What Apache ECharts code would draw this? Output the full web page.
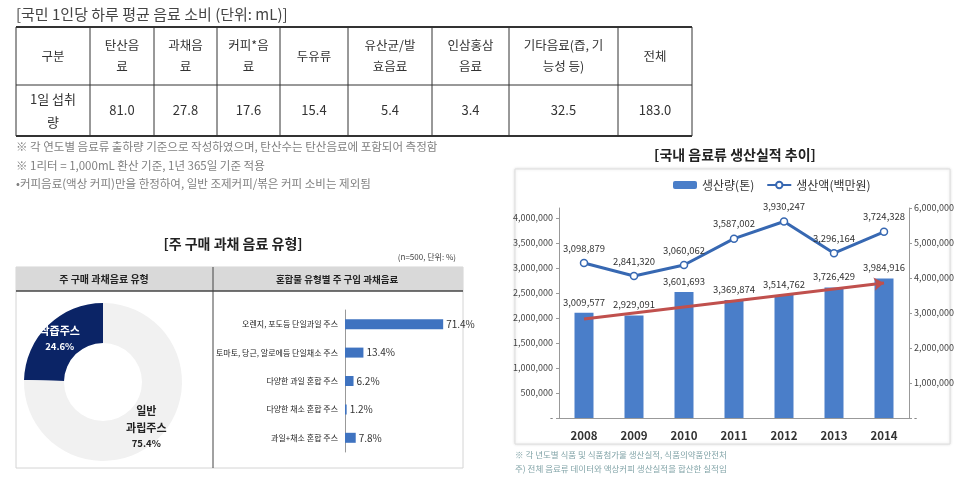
<!DOCTYPE html>
<html><head><meta charset="utf-8">
<script src="https://cdn.jsdelivr.net/npm/echarts@6/dist/echarts.min.js"></script>
<style>html,body{margin:0;padding:0;background:#fff}#c{width:972px;height:492px}</style>
</head><body><div id="c"></div>
<script>
// ---- data ----
const tableHeaders = ['구분','탄산음\n료','과채음\n료','커피*음\n료','두유류','유산균/발\n효음료','인삼홍삼\n음료','기타음료(즙, 기\n능성 등)','전체'];
const rowLabel = '1일 섭취\n량';
const intakeValues = [81.0, 27.8, 17.6, 15.4, 5.4, 3.4, 32.5, 183.0];
const tableNotes = [
  '※ 각 연도별 음료류 출하량 기준으로 작성하였으며, 탄산수는 탄산음료에 포함되어 측정함',
  '※ 1리터 = 1,000mL 환산 기준, 1년 365일 기준 적용',
  '•커피음료(액상 커피)만을 한정하여, 일반 조제커피/볶은 커피 소비는 제외됨'
];
const pieNames = ['착즙주스', '일반 과립주스'];
const pieValues = [24.6, 75.4];
const mixCategories = ['오렌지, 포도등 단일과일 주스','토마토, 당근, 알로에등 단일채소 주스','다양한 과일 혼합 주스','다양한 채소 혼합 주스','과일+채소 혼합 주스'];
const mixValues = [71.4, 13.4, 6.2, 1.2, 7.8];
const years = ['2008','2009','2010','2011','2012','2013','2014'];
const volumeTon = [3009577, 2929091, 3601693, 3369874, 3514762, 3726429, 3984916];
const valueMillionWon = [3098879, 2841320, 3060062, 3587002, 3930247, 3296164, 3724328];
const trendStartEnd = [2830000, 3860000];
const prodNotes = ['※ 각 년도별 식품 및 식품첨가물 생산실적, 식품의약품안전처','주) 전체 음료류 데이터와 액상커피 생산실적을 합산한 실적임'];

// ---- layout ----
const KR = "'Noto Sans CJK KR', sans-serif";
const NARROW = "'Liberation Sans Narrow', 'Noto Sans CJK KR', sans-serif";
const colX = [16, 90, 154, 217, 280, 348, 432, 509, 618, 692];
const rowY = [27, 85, 136];
const fmt = v => v === 0 ? '-' : v.toLocaleString('en-US');

const g = [];
// table title
g.push({type:'text', x:16, y:14, style:{text:'[국민 1인당 하루 평균 음료 소비 (단위: mL)]', font:'15px '+KR, fill:'#444', verticalAlign:'middle'}});
// table lines
g.push({type:'line', shape:{x1:colX[0], y1:rowY[0], x2:colX[colX.length-1], y2:rowY[0]}, style:{stroke:'#333', lineWidth:2}});
g.push({type:'line', shape:{x1:colX[0], y1:rowY[1], x2:colX[colX.length-1], y2:rowY[1]}, style:{stroke:'#333', lineWidth:1}});
g.push({type:'line', shape:{x1:colX[0], y1:rowY[2], x2:colX[colX.length-1], y2:rowY[2]}, style:{stroke:'#333', lineWidth:2}});
colX.forEach(x => g.push({type:'line', shape:{x1:x, y1:rowY[0], x2:x, y2:rowY[2]}, style:{stroke:'#333', lineWidth:1}}));
tableHeaders.forEach((t, i) => {
  const cx = (colX[i] + colX[i+1]) / 2;
  g.push({type:'text', x:cx, y:(rowY[0]+rowY[1])/2, style:{text:t, font:'12.5px '+KR, fill:'#333', align:'center', verticalAlign:'middle', lineHeight:21}});
  const val = i === 0 ? rowLabel : intakeValues[i-1].toFixed(1);
  g.push({type:'text', x:cx, y:(rowY[1]+rowY[2])/2, style:{text:val, font:'13px '+KR, fill:'#333', align:'center', verticalAlign:'middle', lineHeight:23}});
});
tableNotes.forEach((t, i) => g.push({type:'text', x:16, y:147 + i*18.5, style:{text:t, font:'11.5px '+KR, fill:'#808080', verticalAlign:'middle'}}));

// middle-left panel
g.push({type:'text', x:233, y:244, style:{text:'[주 구매 과채 음료 유형]', font:'bold 14px '+KR, fill:'#222', align:'center', verticalAlign:'middle'}});
g.push({type:'text', x:456, y:257, style:{text:'(n=500, 단위: %)', font:'8px '+KR, fill:'#444', align:'right', verticalAlign:'middle'}});
g.push({type:'rect', shape:{x:16, y:267, width:447, height:201}, style:{fill:'#fff', stroke:'#d4d4d4', lineWidth:1}});
g.push({type:'rect', shape:{x:16, y:267, width:447, height:24}, style:{fill:'#d9d9d9'}});
g.push({type:'line', shape:{x1:16, y1:291, x2:463, y2:291}, style:{stroke:'#444', lineWidth:1.5}});
g.push({type:'line', shape:{x1:213, y1:267, x2:213, y2:468}, style:{stroke:'#444', lineWidth:1}});
g.push({type:'text', x:104, y:279, style:{text:'주 구매 과채음료 유형', font:'bold 10px '+KR, fill:'#222', align:'center', verticalAlign:'middle'}});
g.push({type:'text', x:337, y:279, style:{text:'혼합물 유형별 주 구입 과채음료', font:'bold 9.5px '+KR, fill:'#222', align:'center', verticalAlign:'middle'}});

// right panel
g.push({type:'text', x:735, y:155, style:{text:'[국내 음료류 생산실적 추이]', font:'bold 14px '+KR, fill:'#222', align:'center', verticalAlign:'middle'}});
g.push({type:'rect', shape:{x:515, y:169, width:435, height:275}, style:{fill:'#fff', stroke:'#dedede', lineWidth:1, shadowBlur:3, shadowColor:'rgba(0,0,0,0.12)'}});
prodNotes.forEach((t, i) => g.push({type:'text', x:515, y:455 + i*14, style:{text:t, font:'8.5px '+KR, fill:'#82a4a8', verticalAlign:'middle'}}));

const option = {
  animation: false,
  backgroundColor: '#fff',
  graphic: { elements: g },
  legend: {
    left: 668, top: 174, itemWidth: 24, itemHeight: 8, itemGap: 12,
    textStyle: {fontFamily: KR, fontSize: 12, color: '#333'},
    data: ['생산량(톤)', '생산액(백만원)']
  },
  grid: [
    {left: 559, top: 208, width: 350, height: 210},
    {left: 345, top: 310, width: 110, height: 142}
  ],
  xAxis: [
    {gridIndex: 0, type: 'category', data: years,
     axisLine: {lineStyle: {color: '#999'}}, axisTick: {lineStyle: {color: '#999'}, length: 4},
     axisLabel: {fontFamily: NARROW, fontWeight: 'bold', fontSize: 11.5, color: '#333', margin: 12}},
    {gridIndex: 1, type: 'value', min: 0, max: 80, show: false}
  ],
  yAxis: [
    {gridIndex: 0, type: 'value', min: 0, max: 4200000, interval: 500000,
     axisLine: {show: true, lineStyle: {color: '#999'}}, axisTick: {show: true, length: 3, lineStyle: {color: '#999'}},
     splitLine: {show: false},
     axisLabel: {showMaxLabel: false, formatter: fmt, fontFamily: NARROW, fontSize: 9, color: '#444', margin: 6}},
    {gridIndex: 0, type: 'value', min: 0, max: 6000000, interval: 1000000, position: 'right',
     axisLine: {show: true, lineStyle: {color: '#999'}}, axisTick: {show: true, length: 3, lineStyle: {color: '#999'}},
     splitLine: {show: false},
     axisLabel: {formatter: fmt, fontFamily: NARROW, fontSize: 9, color: '#444', margin: 5}},
    {gridIndex: 1, type: 'category', data: mixCategories, inverse: true,
     axisLine: {lineStyle: {color: '#999'}}, axisTick: {length: 3, lineStyle: {color: '#999'}},
     axisLabel: {fontFamily: KR, fontSize: 8, color: '#222', margin: 7}}
  ],
  series: [
    {type: 'pie', center: [103, 382], radius: [39, 79], clockwise: false, startAngle: 90,
     silent: true,
     label: {position: 'inside', fontFamily: KR, lineHeight: 15,
       formatter: p => p.name.split(' ').map(s => '{n|' + s + '}').join('\n') + '\n{p|' + p.value.toFixed(1) + '%}',
       rich: {n: {fontSize: 11, fontWeight: 'bold', fontFamily: KR, lineHeight: 17}, p: {fontSize: 9.5, fontWeight: 'bold', fontFamily: NARROW, lineHeight: 14}}},
     labelLine: {show: false},
     data: pieNames.map((n, i) => ({name: n, value: pieValues[i],
       itemStyle: {color: i === 0 ? '#0b2466' : '#f1f1f1'},
       label: {color: i === 0 ? '#fff' : '#222'}}))},
    {type: 'bar', xAxisIndex: 1, yAxisIndex: 2, data: mixValues, barWidth: 10,
     itemStyle: {color: '#3f73c0'},
     label: {show: true, position: 'right', distance: 3, formatter: p => p.value.toFixed(1) + '%', fontFamily: NARROW, fontSize: 10, color: '#333'}},
    {name: '생산량(톤)', type: 'bar', xAxisIndex: 0, yAxisIndex: 1, data: volumeTon, barWidth: 19,
     itemStyle: {color: '#4a7ec9'},
     label: {show: true, position: 'top', distance: 6, formatter: p => fmt(p.value), fontFamily: NARROW, fontSize: 9.5, color: '#333'},
     markLine: {silent: true, symbol: ['none', 'arrow'], symbolSize: [10, 10], label: {show: false},
       lineStyle: {color: '#c0504d', width: 3, type: 'solid'},
       data: [[{coord: [years[0], trendStartEnd[0]]}, {coord: [years[years.length-1], trendStartEnd[1]]}]]}},
    {name: '생산액(백만원)', type: 'line', xAxisIndex: 0, yAxisIndex: 0, data: valueMillionWon, z: 5,
     symbol: 'circle', symbolSize: 7, lineStyle: {color: '#3768b2', width: 3},
     itemStyle: {color: '#fff', borderColor: '#3768b2', borderWidth: 1.5},
     label: {show: true, position: 'top', distance: 6, formatter: p => fmt(p.value), fontFamily: NARROW, fontSize: 9.5, color: '#333'}}
  ]
};
const chart = echarts.init(document.getElementById('c'));
chart.setOption(option);
</script></body></html>
